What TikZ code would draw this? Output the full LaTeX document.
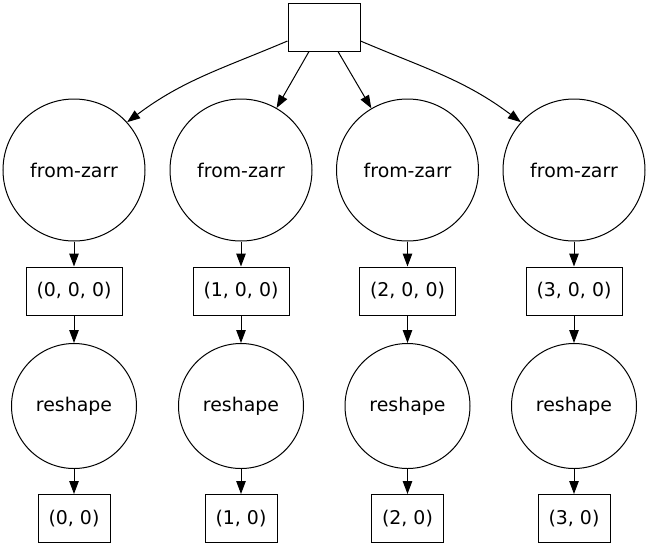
\documentclass[tikz,border=0pt]{standalone}
\usepackage{fontspec}
\setmainfont{DejaVu Sans}
\usetikzlibrary{arrows.meta}
\begin{document}
\begin{tikzpicture}[x=1pt,y=1pt,
  every node/.style={font=\fontsize{18.9}{22}\selectfont, line width=1pt, draw, inner sep=0pt},
  topbox/.style={rectangle, minimum width=72pt, minimum height=48pt},
  keybox/.style={rectangle, minimum width=96pt, minimum height=48pt},
  outbox/.style={rectangle, minimum width=72pt, minimum height=48pt},
  fzcirc/.style={circle, minimum size=142pt},
  rscirc/.style={circle, minimum size=125pt},
  edge/.style={line width=1pt, -{Triangle[length=13pt,width=9.5pt]}}]
\useasboundingbox (0,0) rectangle (649,-547);
\node[topbox] (top) at (324,-27) {};
\foreach \i/\x in {0/74,1/241,2/407.5,3/574}{
  \node[fzcirc] (fz\i) at (\x,-170) {from-zarr};
  \node[keybox] (k\i) at (\x,-291) {(\i, 0, 0)};
  \node[rscirc] (rs\i) at (\x,-406) {reshape};
  \node[outbox] (o\i) at (\x,-518.5) {(\i, 0)};
  \draw[edge] (fz\i) -- (k\i);
  \draw[edge] (k\i) -- (rs\i);
  \draw[edge] (rs\i) -- (o\i);
}
\draw[edge] ([yshift=-14pt]top.west) to[out=203,in=37] (fz0.42);
\draw[edge] ([xshift=-15pt]top.south) -- (fz1);
\draw[edge] ([xshift=14pt]top.south) -- (fz2);
\draw[edge] ([yshift=-14pt]top.east) to[out=-23,in=143] (fz3.138);
\end{tikzpicture}
\end{document}
